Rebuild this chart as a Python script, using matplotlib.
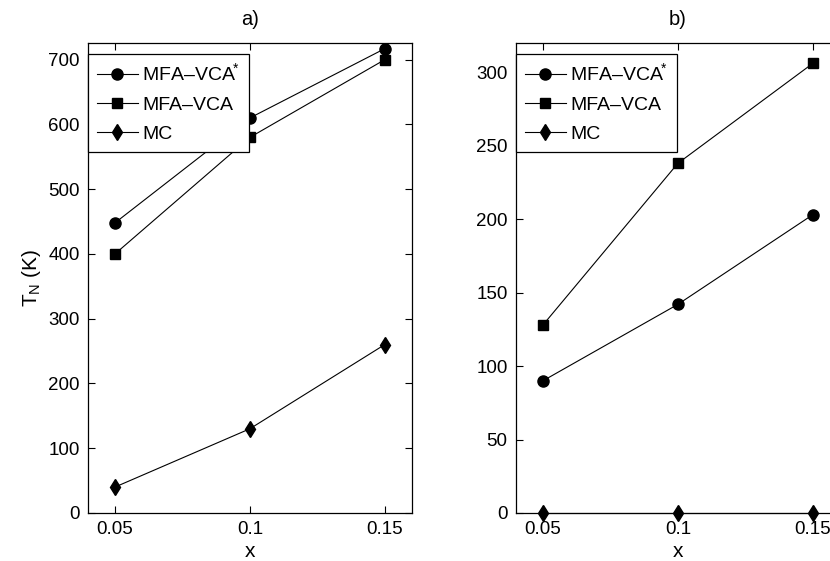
import numpy as np
import matplotlib
matplotlib.use('Agg')
import matplotlib.pyplot as plt

plt.rcParams['font.family'] = ['Liberation Sans', 'DejaVu Sans']
plt.rcParams['mathtext.fontset'] = 'custom'
plt.rcParams['mathtext.rm'] = 'Liberation Sans'
plt.rcParams['mathtext.it'] = 'Liberation Sans'

x = [0.05, 0.1, 0.15]
xticks = [0.05, 0.1, 0.15]
xtick_labels = ['0.05', '0.1', '0.15']

# panel a)
a_mfa_star = [448, 610, 717]
a_mfa = [400, 580, 700]
a_mc = [40, 130, 260]

# panel b)
b_mfa_star = [90, 142, 203]
b_mfa = [128, 238, 306]
b_mc = [0, 0, 0]

labels = ['MFA\u2013VCA$^{\\!\\!*}$', 'MFA\u2013VCA', 'MC']

fig = plt.figure(figsize=(8.3, 5.61), dpi=100)
ax1 = fig.add_axes([0.106, 0.0856, 0.390, 0.838])
ax2 = fig.add_axes([0.6217, 0.0856, 0.390, 0.838])

def panel(ax, s1, s2, s3, ymax, yticks, title):
    ax.plot(x, s1, '-o', color='k', lw=0.8, ms=8)
    ax.plot(x, s2, '-s', color='k', lw=0.8, ms=6.5)
    ax.plot(x, s3, '-d', color='k', lw=0.8, ms=8.5, clip_on=False)
    ax.set_xlim(0.04, 0.16)
    ax.set_ylim(0, ymax)
    ax.set_xticks(xticks)
    ax.set_xticklabels(xtick_labels)
    ax.set_yticks(yticks)
    ax.tick_params(direction='in', top=True, right=True, labelsize=13.5, length=5,
                   width=0.8, pad=6)
    for sp in ax.spines.values():
        sp.set_linewidth(0.9)
    ax.set_xlabel('x', fontsize=15, labelpad=3)
    ax.set_title(title, fontsize=14.5, pad=13)
    leg = ax.legend(labels, loc='upper left', bbox_to_anchor=(0, 1 - 11 / 470),
                    fontsize=14, fancybox=False, framealpha=1, edgecolor='k',
                    handlelength=2.1, borderaxespad=0, labelspacing=0.6,
                    handletextpad=0.25, borderpad=0.45)
    leg.get_frame().set_linewidth(0.9)

panel(ax1, a_mfa_star, a_mfa, a_mc, 726, np.arange(0, 701, 100), 'a)')
panel(ax2, b_mfa_star, b_mfa, b_mc, 320, np.arange(0, 301, 50), 'b)')
ax1.set_ylabel('T$_N$ (K)', fontsize=15, labelpad=4)

fig.savefig('out.png', dpi=100)
